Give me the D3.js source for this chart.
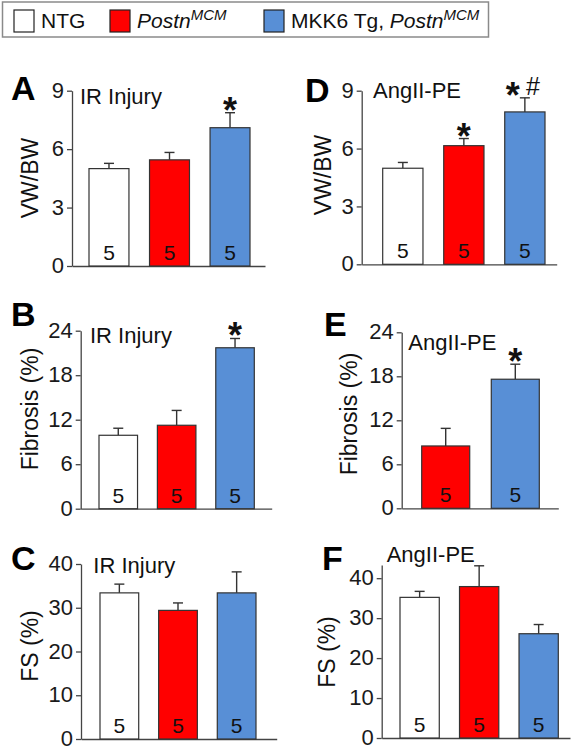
<!DOCTYPE html>
<html><head><meta charset="utf-8">
<script src="https://cdn.jsdelivr.net/npm/d3@7"></script>
<style>
html,body{margin:0;padding:0;background:#fff;}
svg{display:block;font-family:"Liberation Sans",Arial,sans-serif;}
</style></head>
<body>
<svg id="chart" width="576" height="750"></svg>
<script>
// ---------------- data ----------------
const groupsAll = ["NTG", "Postn", "MKK6"];
const groupsTwo = ["Postn", "MKK6"];
const nLabels = ["5", "5", "5"];

const vwbwIR = [5.0, 5.45, 7.1];
const vwbwIRErr = [0.27, 0.38, 0.77];
const vwbwAng = [4.98, 6.15, 7.9];
const vwbwAngErr = [0.3, 0.37, 0.73];

const fibIR = [9.9, 11.25, 21.7];
const fibIRErr = [0.95, 2.0, 1.25];
const fibAng = [8.5, 17.6];
const fibAngErr = [2.4, 2.05];

const fsIR = [33.4, 29.4, 33.4];
const fsIRErr = [2.0, 1.7, 4.8];
const fsAng = [35.2, 37.9, 26.1];
const fsAngErr = [1.5, 5.2, 2.3];

const sigA = ["", "", "*"];
const sigD = ["", "*", "*#"];
const sigB = ["", "", "*"];
const sigE = ["", "*"];
const sigNone = ["", "", ""];

const ticksVW = [0, 3, 6, 9];
const ticksFib = [0, 6, 12, 18, 24];
const ticksFS = [0, 10, 20, 30, 40];

const titleIR = "IR Injury";
const titleAng = "AngII-PE";

// ---------------- styles ----------------
const colors = {NTG: "#ffffff", Postn: "#ff0000", MKK6: "#588fd6"};
const FONT = "\"Liberation Sans\",Arial,sans-serif";

const panels = [
  {letter: "A", title: titleIR, ylabel: "VW/BW", groups: groupsAll, values: vwbwIR, errors: vwbwIRErr, sig: sigA, ticks: ticksVW, ymax: 9,
   L: {ax: 72, xEnd: 265, barL: 89, barR: 250, y0: 266, yTop: 90.7, letX: 11, letY: 100, tX: 80, tY: 103.5, labX: 38, labY: 178}},
  {letter: "D", title: titleAng, ylabel: "VW/BW", groups: groupsAll, values: vwbwAng, errors: vwbwAngErr, sig: sigD, ticks: ticksVW, ymax: 9,
   L: {ax: 361.7, xEnd: 556.7, barL: 382.7, barR: 545, y0: 264.3, yTop: 90.7, letX: 305, letY: 102, tX: 373, tY: 97.5, labX: 331, labY: 175}},
  {letter: "B", title: titleIR, ylabel: "Fibrosis (%)", groups: groupsAll, values: fibIR, errors: fibIRErr, sig: sigB, ticks: ticksFib, ymax: 24,
   L: {ax: 80.7, xEnd: 271.7, barL: 99, barR: 254.3, y0: 508.7, yTop: 330.7, letX: 11, letY: 326, tX: 90, tY: 342.7, labX: 38, labY: 409}},
  {letter: "E", title: titleAng, ylabel: "Fibrosis (%)", groups: groupsTwo, values: fibAng, errors: fibAngErr, sig: sigE, ticks: ticksFib, ymax: 24,
   L: {ax: 401.7, xEnd: 558.3, barL: 421.7, barR: 539.3, y0: 508.3, yTop: 332.3, letX: 324, letY: 336, tX: 408.3, tY: 350, labX: 356.7, labY: 414}},
  {letter: "C", title: titleIR, ylabel: "FS (%)", groups: groupsAll, values: fsIR, errors: fsIRErr, sig: sigNone, ticks: ticksFS, ymax: 40,
   L: {ax: 81, xEnd: 276.7, barL: 100, barR: 256, y0: 739, yTop: 564, letX: 11, letY: 570, tX: 93.3, tY: 573.3, labX: 38, labY: 646}},
  {letter: "F", title: titleAng, ylabel: "FS (%)", groups: groupsAll, values: fsAng, errors: fsAngErr, sig: sigNone, ticks: ticksFS, ymax: 43.3,
   L: {ax: 381.7, xEnd: 570, barL: 400, barR: 558.3, y0: 738, yTop: 565, letX: 322, letY: 570, tX: 386.7, tY: 562.3, labX: 335, labY: 652}}
];

const svg = d3.select("#chart");

// ---------------- legend ----------------
const lg = svg.append("g");
lg.append("rect").attr("x", 2.5).attr("y", 2).attr("width", 486).attr("height", 35)
  .attr("fill", "#fff").attr("stroke", "#8a8a8a").attr("stroke-width", 1.5);
const legendItems = [
  {key: "NTG", x: 14, parts: [{t: "NTG"}]},
  {key: "Postn", x: 110, parts: [{t: "Postn", it: true}, {t: "MCM", it: true, sup: true}]},
  {key: "MKK6", x: 264, parts: [{t: "MKK6 Tg, "}, {t: "Postn", it: true}, {t: "MCM", it: true, sup: true}]}
];
legendItems.forEach(d => {
  lg.append("rect").attr("x", d.x).attr("y", 10).attr("width", 20).attr("height", 22)
    .attr("fill", colors[d.key]).attr("stroke", "#222").attr("stroke-width", 1.2);
  const t = lg.append("text").attr("x", d.x + 27).attr("y", 28)
    .attr("font-size", 21).attr("fill", "#111").attr("font-family", FONT);
  d.parts.forEach(p => {
    const ts = t.append("tspan").text(p.t);
    if (p.it) ts.attr("font-style", "italic");
    if (p.sup) ts.attr("font-size", 15).attr("dy", -8);
  });
});

// ---------------- panels ----------------
panels.forEach(p => {
  const L = p.L;
  const g = svg.append("g");
  const y = d3.scaleLinear().domain([0, p.ymax]).range([L.y0, L.yTop]);
  const x = d3.scaleBand().domain(p.groups).range([L.barL, L.barR]).paddingInner(p.groups.length === 2 ? 0.31 : 0.34).paddingOuter(0);

  // y axis
  const yAxis = d3.axisLeft(y).tickValues(p.ticks).tickSize(5).tickSizeOuter(0).tickPadding(3).tickFormat(d3.format("d"));
  const ag = g.append("g").attr("transform", `translate(${L.ax},0)`).call(yAxis);
  ag.select(".domain").attr("stroke", "#444").attr("stroke-width", 1.3);
  ag.selectAll(".tick line").attr("stroke", "#444").attr("stroke-width", 1.3);
  ag.selectAll(".tick text").attr("font-size", 22).attr("fill", "#1a1a1a").attr("font-family", FONT).attr("dy", "0.3em");

  // x axis baseline
  const xAxis = d3.axisBottom(d3.scaleLinear().domain([0, 1]).range([L.ax, L.xEnd])).tickValues([]).tickSizeOuter(0);
  const xg = g.append("g").attr("transform", `translate(0,${L.y0})`).call(xAxis);
  xg.select(".domain").attr("stroke", "#444").attr("stroke-width", 1.3);

  // bars
  p.groups.forEach((k, i) => {
    const v = p.values[i], e = p.errors[i];
    const bx = x(k), bw = x.bandwidth(), cx = bx + bw / 2;
    // error bar
    g.append("line").attr("x1", cx).attr("x2", cx).attr("y1", y(v)).attr("y2", y(v + e))
      .attr("stroke", "#333").attr("stroke-width", 1.4);
    g.append("line").attr("x1", cx - 5).attr("x2", cx + 5).attr("y1", y(v + e)).attr("y2", y(v + e))
      .attr("stroke", "#333").attr("stroke-width", 1.4);
    g.append("rect").attr("x", bx).attr("y", y(v)).attr("width", bw).attr("height", y(0) - y(v))
      .attr("fill", colors[k]).attr("stroke", "#333").attr("stroke-width", 1.2);
    g.append("text").attr("x", cx).attr("y", L.y0 - 6).attr("text-anchor", "middle")
      .attr("font-size", 21).attr("fill", "#111").attr("font-family", FONT).text(nLabels[i]);
    const s = p.sig[i];
    if (s === "*") {
      g.append("text").attr("x", cx).attr("y", y(v + e) + 10).attr("text-anchor", "middle")
        .attr("font-size", 36).attr("font-weight", "bold").attr("fill", "#111").attr("font-family", FONT).text("*");
    } else if (s === "*#") {
      g.append("text").attr("x", cx - 12).attr("y", y(v + e) + 10).attr("text-anchor", "middle")
        .attr("font-size", 36).attr("font-weight", "bold").attr("fill", "#111").attr("font-family", FONT).text("*");
      g.append("text").attr("x", cx + 8).attr("y", y(v + e) - 3).attr("text-anchor", "middle")
        .attr("font-size", 25).attr("fill", "#111").attr("font-family", FONT).text("#");
    }
  });

  // titles & labels
  g.append("text").attr("x", L.letX).attr("y", L.letY).attr("font-size", 34).attr("font-weight", "bold")
    .attr("fill", "#000").attr("font-family", FONT).text(p.letter);
  g.append("text").attr("x", L.tX).attr("y", L.tY).attr("font-size", 22)
    .attr("fill", "#111").attr("font-family", FONT).text(p.title);
  g.append("text").attr("transform", `translate(${L.labX},${L.labY}) rotate(-90)`).attr("text-anchor", "middle")
    .attr("font-size", 23).attr("fill", "#111").attr("font-family", FONT).text(p.ylabel);
});
</script>
</body></html>
